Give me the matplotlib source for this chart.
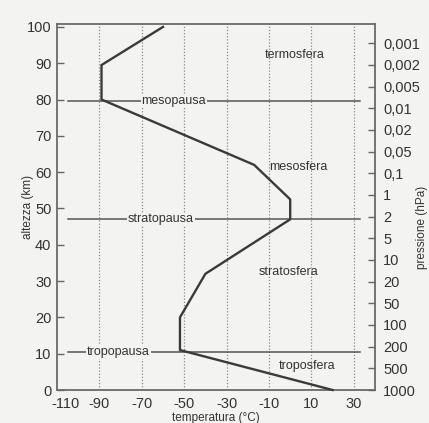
import numpy as np
import matplotlib
matplotlib.use('Agg')
import matplotlib.pyplot as plt
from matplotlib.transforms import ScaledTranslation

plt.rcParams['font.family'] = ['Liberation Sans', 'DejaVu Sans']
plt.rcParams['axes.unicode_minus'] = False

# temperature profile (deg C) vs altitude (km)
temp = [20, -52, -52, -40, 0, 0, -17, -89, -89, -60]
alt = [0, 11, 20, 32, 47, 52.5, 62, 80, 89.5, 100]

# boundary layers
pause_names = ['tropopausa', 'stratopausa', 'mesopausa']
pause_alt = [10.5, 47, 79.5]
pause_text_x = [-81, -61, -55]

# layer names
layer_names = ['troposfera', 'stratosfera', 'mesosfera', 'termosfera']
layer_x = [8, -1, 4, 2]
layer_y = [6.6, 32.5, 61.4, 92.2]

# pressure labels on the right axis (evenly spaced in the drawing)
pressure_labels = ['1000', '500', '200', '100', '50', '20', '10', '5', '2', '1',
                   '0,1', '0,05', '0,02', '0,01', '0,005', '0,002', '0,001']

bg = '#f3f3f1'
ink = '#3a3a3a'

fig = plt.figure(figsize=(4.29, 4.23), dpi=100, facecolor=bg)
ax = fig.add_axes([57/429, 1 - 390/423, 318/429, 366/423], facecolor=bg)

ax.set_xlim(-110, 40)
ax.set_ylim(0, 100.8)
ax.set_xticks(np.arange(-110, 31, 20))
ax.set_yticks(np.arange(0, 101, 10))
ax.tick_params(axis='y', direction='in', length=5, width=1, color='#666666',
               labelsize=10.5, pad=4, labelcolor='#333333')
ax.tick_params(axis='x', length=0, labelsize=10.5, pad=5, labelcolor='#333333')

# the -110 label sits a little inside the corner, as in the printed figure
first = ax.get_xticklabels()[0]
first.set_transform(first.get_transform() + ScaledTranslation(6/72, 0, fig.dpi_scale_trans))

for xv in range(-90, 31, 20):
    ax.axvline(xv, color='#8a8a8a', linestyle=(0, (1, 1.5)), linewidth=0.9, zorder=1)

for s in ax.spines.values():
    s.set_color('#6a6a6a')
    s.set_linewidth(1.3)

# pause lines with labels
for name, a, tx in zip(pause_names, pause_alt, pause_text_x):
    ax.plot([-105, 33], [a, a], color='#555555', linewidth=1.1, zorder=2)
    ax.text(tx, a, name, fontsize=9, color='#333333', ha='center', va='center',
            bbox=dict(facecolor=bg, edgecolor='none', pad=0.5), zorder=3)

ax.plot(temp, alt, color=ink, linewidth=1.7, zorder=4, clip_on=False)

for name, x, y in zip(layer_names, layer_x, layer_y):
    ax.text(x, y, name, fontsize=9, color='#333333', ha='center', va='center')

ax.set_xlabel('temperatura (°C)', fontsize=8.5, color='#333333', labelpad=1)
ax.set_ylabel('altezza (km)', fontsize=8.5, color='#333333')
ax.yaxis.set_label_coords(-0.072, 0.5)

ax2 = ax.twinx()
ax2.set_ylim(ax.get_ylim())
ax2.set_yticks(np.linspace(0, 95.5, len(pressure_labels)))
ax2.set_yticklabels(pressure_labels)
ax2.tick_params(axis='y', direction='in', length=5, width=1, color='#666666',
                labelsize=10.5, pad=6, labelcolor='#333333')
for s in ax2.spines.values():
    s.set_visible(False)
fig.text(422/429, 1 - 227/423, 'pressione (hPa)', rotation=90, fontsize=8.5,
         color='#333333', ha='center', va='center')

fig.savefig('out.png', dpi=100, facecolor=bg)
